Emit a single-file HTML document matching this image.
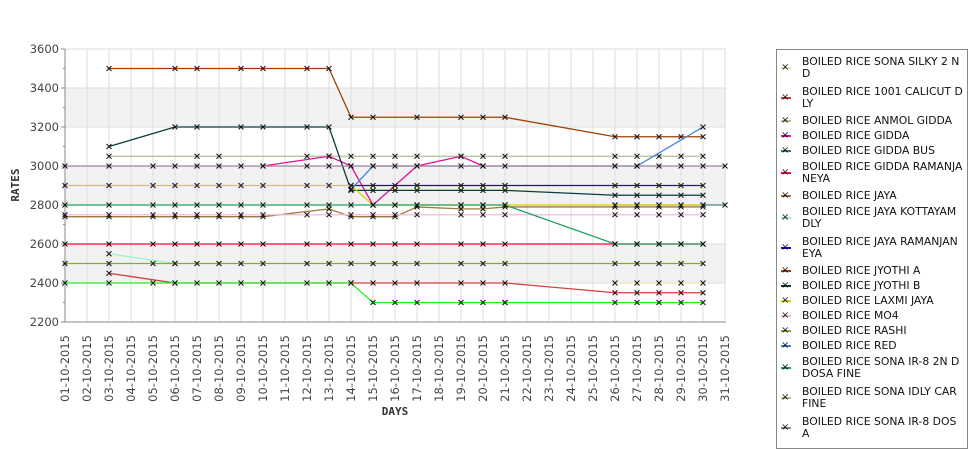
<!DOCTYPE html>
<html><head><meta charset="utf-8"><style>
body{margin:0;background:#fff;width:975px;height:429px;overflow:hidden;font-family:"Liberation Sans","DejaVu Sans",sans-serif}
#legend{position:absolute;left:776px;top:49px;width:192px;height:400px;border:1px solid #888;background:#fff;font-family:"DejaVu Sans",sans-serif;font-size:10.8px;color:#111;overflow:hidden;box-sizing:border-box}
.le{position:relative;padding-left:25px;padding-right:4px;line-height:12px;word-break:break-all;box-sizing:border-box}
.le .sw{position:absolute;left:4px;width:10px;height:2px;top:50%;margin-top:-1px}
.le .mk{position:absolute;left:4px;font-size:10px;line-height:10px;top:50%;margin-top:-5px}
</style></head><body>
<svg id="chart" width="975" height="429" style="position:absolute;left:0;top:0"></svg>
<div id="legend"></div>
<script>
const days = ["01","02","03","04","05","06","07","08","09","10","11","12","13","14","15","16","17","18","19","20","21","22","23","24","25","26","27","28","29","30","31"];
const yTicks = [2200,2400,2600,2800,3000,3200,3400,3600];
const names = [" BOILED RICE SONA SILKY 2 ND","BOILED RICE 1001 CALICUT DLY","BOILED RICE ANMOL GIDDA","BOILED RICE GIDDA","BOILED RICE GIDDA BUS","BOILED RICE GIDDA RAMANJA NEYA","BOILED RICE JAYA","BOILED RICE JAYA KOTTAYAM  DLY","BOILED RICE JAYA RAMANJAN EYA","BOILED RICE JYOTHI A","BOILED RICE JYOTHI B","BOILED RICE LAXMI JAYA","BOILED RICE MO4","BOILED RICE RASHI","BOILED RICE RED","BOILED RICE SONA  IR-8 2N D DOSA FINE","BOILED RICE SONA IDLY CAR  FINE","BOILED RICE SONA IR-8 DOS A"];
const colors = ["#f0e4b8","#d04040","#b0c090","#e0109a","#3a7a7a","#ff0040","#a07840","#a0f0d0","#2000e0","#a04000","#0a3d3d","#d8d000","#f4b8dc","#80b020","#4080e0","#20a060","#c0b880","#a080a0"];
const s0d=[26,27,28,29,30], s0v=[2400,2400,2400,2400,2400];
const s1d=[3,6,14,15,16,17,19,20,21,26,27,28,29,30], s1v=[2450,2400,2400,2400,2400,2400,2400,2400,2400,2350,2350,2350,2350,2350];
const s2d=[3,7,8,12,13,14,15,16,17,19,20,21,26,27,28,29,30], s2v=[3050,3050,3050,3050,3050,3050,3050,3050,3050,3050,3050,3050,3050,3050,3050,3050,3050];
const s3d=[10,13,14,15,17,19,20], s3v=[3000,3050,3000,2800,3000,3050,3000];
const s4d=[26,27,28,29,30,31], s4v=[2800,2800,2800,2800,2800,2800];
const s5d=[1,3,5,6,7,8,9,10,12,13,14,15,16,17,19,20,21,26,27,28,29,30], s5v=[2600,2600,2600,2600,2600,2600,2600,2600,2600,2600,2600,2600,2600,2600,2600,2600,2600,2600,2600,2600,2600,2600];
const s6d=[1,3,5,6,7,8,9,10,13,14,15,16,17,19,20,21,26,27,28,29,30], s6v=[2740,2740,2740,2740,2740,2740,2740,2740,2780,2740,2740,2740,2790,2780,2780,2790,2790,2790,2790,2790,2790];
const s7d=[3,6], s7v=[2550,2500];
const s8d=[14,15,16,17,19,20,21,26,27,28,29,30], s8v=[2900,2900,2900,2900,2900,2900,2900,2900,2900,2900,2900,2900];
const s9d=[3,6,7,9,10,12,13,14,15,17,19,20,21,26,27,28,29,30], s9v=[3500,3500,3500,3500,3500,3500,3500,3250,3250,3250,3250,3250,3250,3150,3150,3150,3150,3150];
const s10d=[3,6,7,9,10,12,13,14,15,16,17,19,20,21,26,27,28,29,30], s10v=[3100,3200,3200,3200,3200,3200,3200,2875,2875,2875,2875,2875,2875,2875,2850,2850,2850,2850,2850];
const s11d=[1,3,5,6,7,8,9,10,12,13,14,15,16,17,19,20,21,26,27,28,29,30], s11v=[2900,2900,2900,2900,2900,2900,2900,2900,2900,2900,2900,2800,2800,2800,2800,2800,2800,2800,2800,2800,2800,2800];
const s12d=[1,3,5,6,7,8,9,10,12,13,14,15,16,17,19,20,21,26,27,28,29,30], s12v=[2750,2750,2750,2750,2750,2750,2750,2750,2750,2750,2750,2750,2750,2750,2750,2750,2750,2750,2750,2750,2750,2750];
const s13d=[1,3,5,6,7,8,9,10,12,13,14,15,16,17,19,20,21,26,27,28,29,30], s13v=[2500,2500,2500,2500,2500,2500,2500,2500,2500,2500,2500,2500,2500,2500,2500,2500,2500,2500,2500,2500,2500,2500];
const s14d=[14,15,26,27,30], s14v=[2880,3000,3000,3000,3200];
const s15d=[1,3,5,6,7,8,9,10,12,13,14,15,16,17,19,20,21,26,27,28,29,30], s15v=[2800,2800,2800,2800,2800,2800,2800,2800,2800,2800,2800,2800,2800,2800,2800,2800,2800,2600,2600,2600,2600,2600];
const s16d=[1,3,5,6,7,8,9,10,12,13,14,15,16,17,19,20,21], s16v=[2400,2400,2400,2400,2400,2400,2400,2400,2400,2400,2400,2300,2300,2300,2300,2300,2300];
const s17d=[1,3,5,6,7,8,9,10,12,13,14,15,16,17,19,20,21,26,27,28,29,30,31], s17v=[3000,3000,3000,3000,3000,3000,3000,3000,3000,3000,3000,3000,3000,3000,3000,3000,3000,3000,3000,3000,3000,3000,3000];
const s18d=[21,26,27,28,29,30], s18v=[2300,2300,2300,2300,2300,2300];
const seriesDays=[s0d,s1d,s2d,s3d,s4d,s5d,s6d,s7d,s8d,s9d,s10d,s11d,s12d,s13d,s14d,s15d,s16d,s17d,s18d];
const seriesVals=[s0v,s1v,s2v,s3v,s4v,s5v,s6v,s7v,s8v,s9v,s10v,s11v,s12v,s13v,s14v,s15v,s16v,s17v,s18v];
const seriesCols=["#f0e4b8","#d04040","#b0c090","#e0109a","#508a8a","#ff0040","#a07840","#a0f0d0","#2000e0","#a04000","#0a3d3d","#d8d000","#f4b8dc","#80b020","#4080e0","#20a060","#20f020","#a080a0","#20f020"];

const NS="http://www.w3.org/2000/svg";
const svg=document.getElementById('chart');
const X0=65,X1=725,Y0=322,Y1=49,VMIN=2200,VMAX=3600;
function xs(d){return X0+(d-1)*(X1-X0)/30;}
function ys(v){return Y0-(v-VMIN)*(Y0-Y1)/(VMAX-VMIN);}
function mk(tag,attrs){const e=document.createElementNS(NS,tag);for(const k in attrs)e.setAttribute(k,attrs[k]);svg.appendChild(e);return e;}

for(let i=0;i<yTicks.length-1;i++){
  if(i%2===1){
    const b=mk('rect',{x:X0,y:ys(yTicks[i+1]),width:X1-X0+1,height:ys(yTicks[i])-ys(yTicks[i+1]),fill:'#f2f2f2'});
    
    
  }
}
days.forEach((d,i)=>{
  const x=xs(i+1);
  const g=mk('line',{x1:x,x2:x,y1:Y1,y2:Y0,stroke:'#ddd','stroke-width':1});
  
  
  const t=mk('text',{x:0,y:0,transform:`translate(${x+4},335) rotate(-90)`,'text-anchor':'end','font-size':'11.5','fill':'#444','font-family':'DejaVu Sans, sans-serif'});
  t.textContent=d+'-10-2015';
  
  
});
yTicks.forEach(v=>{
  const y=ys(v);
  const g=mk('line',{x1:X0,x2:X1+1,y1:y,y2:y,stroke:'#ddd','stroke-width':1});
  
  
  mk('line',{x1:X0-4,x2:X0,y1:y,y2:y,stroke:'#888'});
  const t=mk('text',{x:X0-6,y:y+4,'text-anchor':'end','font-size':'11.5','fill':'#444','font-family':'DejaVu Sans, sans-serif'});
  t.textContent=v;
  
  
});
for(let v=VMIN;v<=VMAX;v+=100){mk('line',{x1:X0-2,x2:X0,y1:ys(v),y2:ys(v),stroke:'#888'});}
const ax=mk('line',{x1:X0,x2:X0,y1:Y1,y2:Y0,stroke:'#888'});


const axx=mk('line',{x1:X0,x2:X1+1,y1:Y0,y2:Y0,stroke:'#888'});



seriesDays.forEach((ds,si)=>{
  const vs=seriesVals[si];
  const pts=ds.map((d,j)=>xs(d)+','+ys(vs[j])).join(' ');
  const pl=mk('polyline',{points:pts,fill:'none',stroke:seriesCols[si],'stroke-width':1.3});
  
  
  ds.forEach((d,j)=>{
    const x=xs(d),y=ys(vs[j]);
    const m=mk('path',{d:`M${x-2.5},${y-2.5}L${x+2.5},${y+2.5}M${x-2.5},${y+2.5}L${x+2.5},${y-2.5}`,stroke:'#111','stroke-width':1});
    
    
  });
});
const yt=mk('text',{transform:'translate(19,185) rotate(-90)','text-anchor':'middle','font-size':'11','font-weight':'bold','fill':'#333','font-family':'DejaVu Sans Mono, monospace'});
yt.textContent='RATES';


const xt=mk('text',{x:395,y:415,'text-anchor':'middle','font-size':'11','font-weight':'bold','fill':'#333','font-family':'DejaVu Sans Mono, monospace'});
xt.textContent='DAYS';



const lg=document.getElementById('legend');
const pad=document.createElement('div');pad.style.height='3px';lg.appendChild(pad);
names.forEach((n,i)=>{
  const e=document.createElement('div');
  e.className='le';
  
  
  e.innerHTML=`<span class="sw" style="background:${colors[i]}"></span><span class="mk">×</span>${n}`;
  lg.appendChild(e);
  const two=e.offsetHeight>14;
  e.style.padding=two?'3px 4px 3px 25px':'1.5px 4px 1.5px 25px';
});
</script>
</body></html>
